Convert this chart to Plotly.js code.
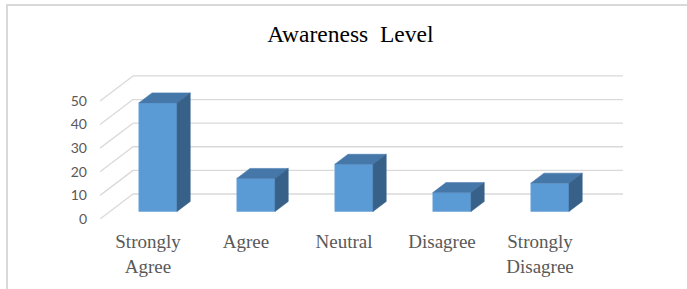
<!DOCTYPE html>
<html>
<head>
<meta charset="utf-8">
<script src="https://cdn.plot.ly/plotly-3.0.1.min.js"></script>
<style>html,body{margin:0;padding:0;background:#fff;}#chart{width:687px;height:289px;}</style>
</head>
<body>
<div id="chart"></div>
<script>
// ---- data ----
const categories = ['Strongly<br>Agree', 'Agree', 'Neutral', 'Disagree', 'Strongly<br>Disagree'];
const values = [46, 14, 20, 8, 12];
const yTicks = [0, 10, 20, 30, 40, 50];
const yTickLabels = ['0', '10', '20', '30', '40', '50'];
const chartTitle = 'Awareness\u00a0 Level';

// ---- 3D projection geometry ----
const DX = 0.337;   // depth offset in x units
const DY = 10.6;    // depth offset in y units
const F0 = 0.3, F1 = 0.7; // bar front/back depth fractions
const W = 0.39;     // bar width
const XL = -0.49, XR = 4.51;

const pos = categories.map((c, i) => i);
const xf = pos.map(p => p + F0 * DX);
const dd = (F1 - F0);

const topX = [], topY = [], sideX = [], sideY = [];
values.forEach((v, i) => {
  const l = xf[i] - W / 2, r = xf[i] + W / 2;
  const yb = F0 * DY, yt = F0 * DY + v;
  const ox = dd * DX, oy = dd * DY;
  topX.push(l, r, r + ox, l + ox, l, null);
  topY.push(yt, yt, yt + oy, yt + oy, yt, null);
  sideX.push(r, r, r + ox, r + ox, r, null);
  sideY.push(yt, yb, yb + oy, yt + oy, yt, null);
});

const traces = [
  {
    type: 'bar', x: xf, y: values, base: F0 * DY, width: W,
    marker: {color: '#5b9bd5', line: {color: '#6ea6da', width: 0.6}},
    hoverinfo: 'skip', showlegend: false
  },
  {
    type: 'scatter', mode: 'lines', x: topX, y: topY, fill: 'toself',
    fillcolor: '#4677a9', line: {color: '#4a7cae', width: 0.6},
    hoverinfo: 'skip', showlegend: false
  },
  {
    type: 'scatter', mode: 'lines', x: sideX, y: sideY, fill: 'toself',
    fillcolor: '#386189', line: {color: '#3d678f', width: 0.6},
    hoverinfo: 'skip', showlegend: false
  }
];

const shapes = [];
yTicks.forEach(t => {
  shapes.push({type: 'line', layer: 'below', xref: 'x', yref: 'y',
    x0: XL + DX, y0: t + DY, x1: XR + DX, y1: t + DY,
    line: {color: '#d9d9d9', width: 1.3}});
  shapes.push({type: 'line', layer: 'below', xref: 'x', yref: 'y',
    x0: XL, y0: t, x1: XL + DX, y1: t + DY,
    line: {color: '#d9d9d9', width: 1.3}});
});
// outer chart border (top and left only visible)
shapes.push({type: 'line', xref: 'paper', yref: 'paper', x0: -0.1797, y0: 1.486, x1: 1.13, y1: 1.486,
  line: {color: '#d9d9d9', width: 2}});
shapes.push({type: 'line', xref: 'paper', yref: 'paper', x0: -0.1778, y0: 1.486, x1: -0.1778, y1: -0.6,
  line: {color: '#d9d9d9', width: 2}});

const layout = {
  width: 687, height: 289,
  margin: {l: 100, r: 64, t: 75, b: 70, pad: 0},
  paper_bgcolor: '#ffffff', plot_bgcolor: 'rgba(0,0,0,0)',
  showlegend: false,
  hovermode: false,
  title: {
    text: chartTitle, xref: 'container', yref: 'container',
    x: 0.510, y: 1 - 34 / 289, xanchor: 'center', yanchor: 'middle',
    font: {family: 'Liberation Serif, Times New Roman, serif', size: 23.5, color: '#000000'}
  },
  xaxis: {
    range: [XL, XR + DX], fixedrange: true,
    showgrid: false, zeroline: false, showline: false, ticks: '',
    tickmode: 'array', tickvals: pos, ticktext: categories,
    tickfont: {family: 'Liberation Serif, Times New Roman, serif', size: 19, color: '#595959'},
    ticklabelstandoff: 9
  },
  yaxis: {
    range: [0, 61], fixedrange: true,
    showgrid: false, zeroline: false, showline: false, ticks: '',
    tickmode: 'array', tickvals: yTicks, ticktext: yTickLabels,
    tickfont: {family: 'Lato, Carlito, sans-serif', size: 14, color: '#595959'},
    ticklabelstandoff: 12
  },
  shapes: shapes
};

Plotly.newPlot('chart', traces, layout, {displayModeBar: false, staticPlot: true});
</script>
</body>
</html>
